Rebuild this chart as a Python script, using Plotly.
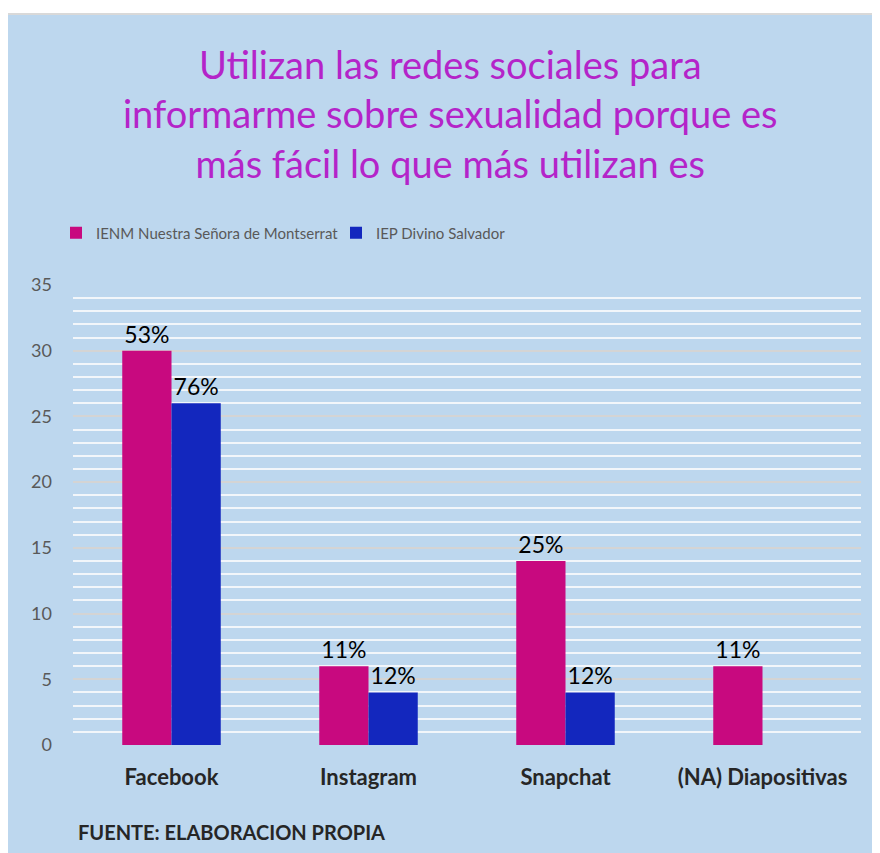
import plotly.graph_objects as go

categories = ["Facebook", "Instagram", "Snapchat", "(NA) Diapositivas"]
series_names = ["IENM Nuestra Señora de Montserrat", "IEP Divino Salvador"]
montserrat_values = [30, 6, 14, 6]
salvador_values = [26, 4, 4, None]
montserrat_labels = ["53%", "11%", "25%", "11%"]
salvador_labels = ["76%", "12%", "12%", ""]
title_lines = ["Utilizan las redes sociales para",
               "informarme sobre sexualidad porque es",
               "más fácil lo que más utilizan es"]
footer_text = "FUENTE: ELABORACION PROPIA"

OFF = 8  # page body margin
W, H = 880 - OFF, 853 - OFF
L, R, T, B = 73 - OFF, 19, 285 - OFF, 108
pw, ph = W - L - R, H - T - B

def px_x(sx):
    # screen x -> paper x
    return (sx - OFF - L) / pw

def px_y(sy):
    # screen y -> paper y
    return (H - B - (sy - OFF)) / ph

FONT = "Lato"
PINK = "#C8097F"
BLUE = "#1327BE"

fig = go.Figure()
fig.add_trace(go.Bar(x=categories, y=montserrat_values, name=series_names[0],
                     marker=dict(color=PINK, line=dict(width=0)),
                     text=montserrat_labels, textposition="outside",
                     textfont=dict(size=23, color="black", family=FONT),
                     cliponaxis=False, legend="legend"))
fig.add_trace(go.Bar(x=categories, y=salvador_values, name=series_names[1],
                     marker=dict(color=BLUE, line=dict(width=0)),
                     text=salvador_labels, textposition="outside",
                     textfont=dict(size=23, color="black", family=FONT),
                     cliponaxis=False, legend="legend2"))

legend_font = dict(size=15, color="#595959", family=FONT)

fig.update_layout(
    width=W, height=H,
    margin=dict(l=L, r=R, t=T, b=B, autoexpand=False),
    paper_bgcolor="white",
    plot_bgcolor="rgba(0,0,0,0)",
    barmode="group", bargap=0.5, bargroupgap=0,
    font=dict(family=FONT, color="#595959", size=17),
    showlegend=True,
    legend=dict(orientation="h", x=px_x(56), xanchor="left",
                y=px_y(233), yanchor="middle",
                font=legend_font, bgcolor="rgba(0,0,0,0)", itemwidth=30),
    legend2=dict(orientation="h", x=px_x(336), xanchor="left",
                 y=px_y(233), yanchor="middle",
                 font=legend_font, bgcolor="rgba(0,0,0,0)", itemwidth=30),
    xaxis=dict(showgrid=False, showline=False, ticks="",
               tickfont=dict(size=22, color="#262626", family=FONT, weight="bold"),
               ticklabelstandoff=17),
    yaxis=dict(range=[0, 35], dtick=5, tick0=0, showline=False, zeroline=False,
               gridcolor="#D4D4D4", gridwidth=2,
               minor=dict(dtick=1, showgrid=True, gridcolor="#F2F6FA", gridwidth=2),
               tickfont=dict(size=18, color="#595959", family=FONT),
               ticks="", ticklabelstandoff=20),
    shapes=[dict(type="rect", xref="paper", yref="paper", layer="below",
                 x0=px_x(6), x1=px_x(884), y0=px_y(858), y1=px_y(14),
                 fillcolor="#BDD7EE", line=dict(color="#D9D9D9", width=2))],
    annotations=[
        dict(text="<br>".join(title_lines), xref="paper", yref="paper",
             x=px_x(450), y=px_y(39), xanchor="center", yanchor="top",
             showarrow=False, align="center",
             font=dict(size=38, color="#B424C9", family=FONT)),
        dict(text="<b>" + footer_text + "</b>", xref="paper", yref="paper",
             x=px_x(76), y=px_y(832), xanchor="left", yanchor="middle",
             showarrow=False, font=dict(size=20, color="#262626", family=FONT)),
    ],
)

fig.write_html("out.html")
